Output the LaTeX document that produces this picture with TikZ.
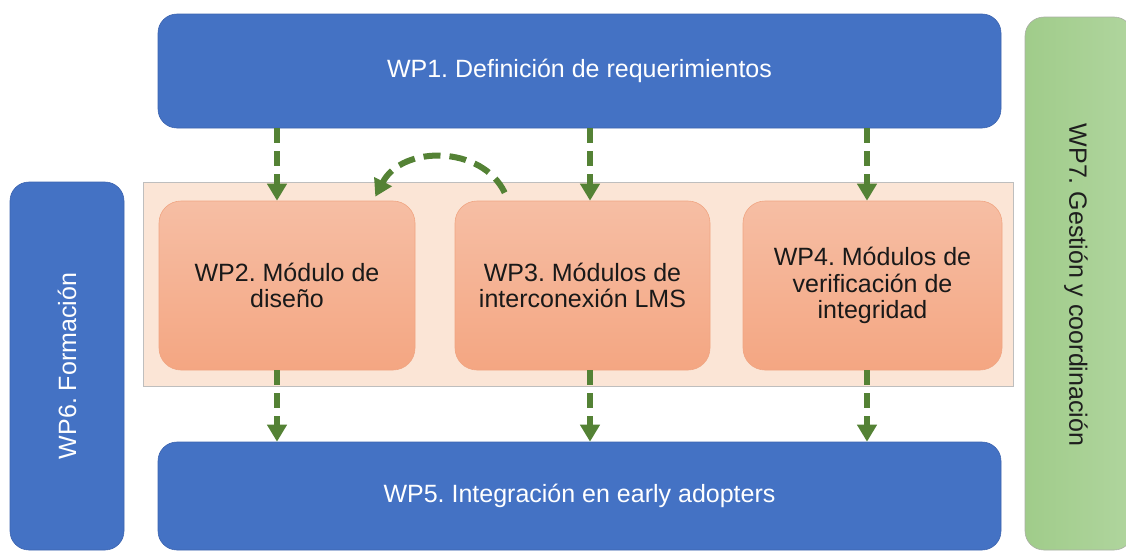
\documentclass[tikz,border=0pt]{standalone}
\usepackage{fontspec}
\setmainfont{Liberation Sans}
\frenchspacing
\usetikzlibrary{arrows.meta,calc}
\definecolor{wpblue}{RGB}{68,114,196}
\definecolor{wpblueedge}{RGB}{60,100,175}
\definecolor{wpgreenL}{RGB}{160,204,138}
\definecolor{wpgreenR}{RGB}{176,213,158}
\definecolor{orangeT}{RGB}{246,190,164}
\definecolor{orangeB}{RGB}{244,166,130}
\definecolor{orangeEdge}{RGB}{240,165,130}
\definecolor{backfill}{RGB}{251,229,214}
\definecolor{arrowgreen}{RGB}{84,130,53}
\tikzset{
  bluebox/.style={draw=wpblueedge, line width=0.6pt, fill=wpblue, rounded corners=19pt,
    text=white, font=\fontsize{25}{26.5}\selectfont, align=center, inner sep=0pt},
  orangebox/.style={draw=orangeEdge, line width=0.6pt, top color=orangeT, bottom color=orangeB,
    rounded corners=22pt, text={rgb,255:red,25;green,25;blue,25},
    font=\fontsize{25}{26.5}\selectfont, align=center, inner sep=0pt,
    minimum height=169pt},
  greenbox/.style={draw={rgb,255:red,170;green,175;blue,165}, line width=0.6pt,
    left color=wpgreenL, right color=wpgreenR, rounded corners=19pt, inner sep=0pt},
  backbox/.style={draw={rgb,255:red,190;green,190;blue,190}, line width=0.8pt, fill=backfill, inner sep=0pt},
  flow/.style={draw=arrowgreen, line width=6pt, dash pattern=on 15pt off 8pt,
    -{Triangle[width=19pt,length=17pt]}, arrowgreen},
}
\begin{document}
\begin{tikzpicture}[x=1pt,y=-1pt]
\useasboundingbox (0,0) rectangle (1126,552);
\begin{scope}
\clip (0,0) rectangle (1126,552);
% background rectangle of WP2-WP4
\node[backbox, minimum width=870pt, minimum height=204pt] (back) at (578,284) {};
% blue boxes
\node[bluebox, minimum width=843pt, minimum height=114pt] (wp1) at (579.5,71) {WP1. Definición de requerimientos};
\node[bluebox, minimum width=843pt, minimum height=108pt] (wp5) at (579.5,496) {WP5. Integración en early adopters};
\node[bluebox, minimum width=114pt, minimum height=368pt] (wp6) at (67,366) {};
\node[rotate=90, text=white, font=\fontsize{25}{26.5}\selectfont] (wp6t) at (wp6.center) {WP6. Formación};
% green box
\node[greenbox, minimum width=108pt, minimum height=533pt] (wp7) at (1079,283.5) {};
\node[rotate=-90, text={rgb,255:red,30;green,30;blue,30}, font=\fontsize{25}{26.5}\selectfont] (wp7t) at (1076,285) {WP7. Gestión y coordinación};
% orange boxes
\node[orangebox, minimum width=256pt] (wp2) at (287,285.5) {WP2. Módulo de\\diseño};
\node[orangebox, minimum width=255pt] (wp3) at (582.5,285.5) {WP3. Módulos de\\interconexión LMS};
\node[orangebox, minimum width=259pt] (wp4) at (872.5,285.5) {WP4. Módulos de\\verificación de\\integridad};
\end{scope}
% arrow columns
\coordinate (ca) at (277,0);
\coordinate (cb) at (590,0);
\coordinate (cc) at (867,0);
\draw[flow] (ca |- wp1.south) -- (ca |- wp2.north);
\draw[flow] (cb |- wp1.south) -- (cb |- wp3.north);
\draw[flow] (cc |- wp1.south) -- (cc |- wp4.north);
\draw[flow] (ca |- wp2.south) -- (ca |- wp5.north);
\draw[flow] (cb |- wp3.south) -- (cb |- wp5.north);
\draw[flow] (cc |- wp4.south) -- (cc |- wp5.north);
% curved arrow WP3 -> WP2
\coordinate (cs) at ($(wp3.north west)+(50,-8)$);
\coordinate (ce) at ($(wp2.north east)+(-40,-4)$);
\draw[flow, dash pattern=on 17pt off 9pt] (cs) .. controls (482,145) and (402,145) .. (ce);
\end{tikzpicture}
\end{document}
